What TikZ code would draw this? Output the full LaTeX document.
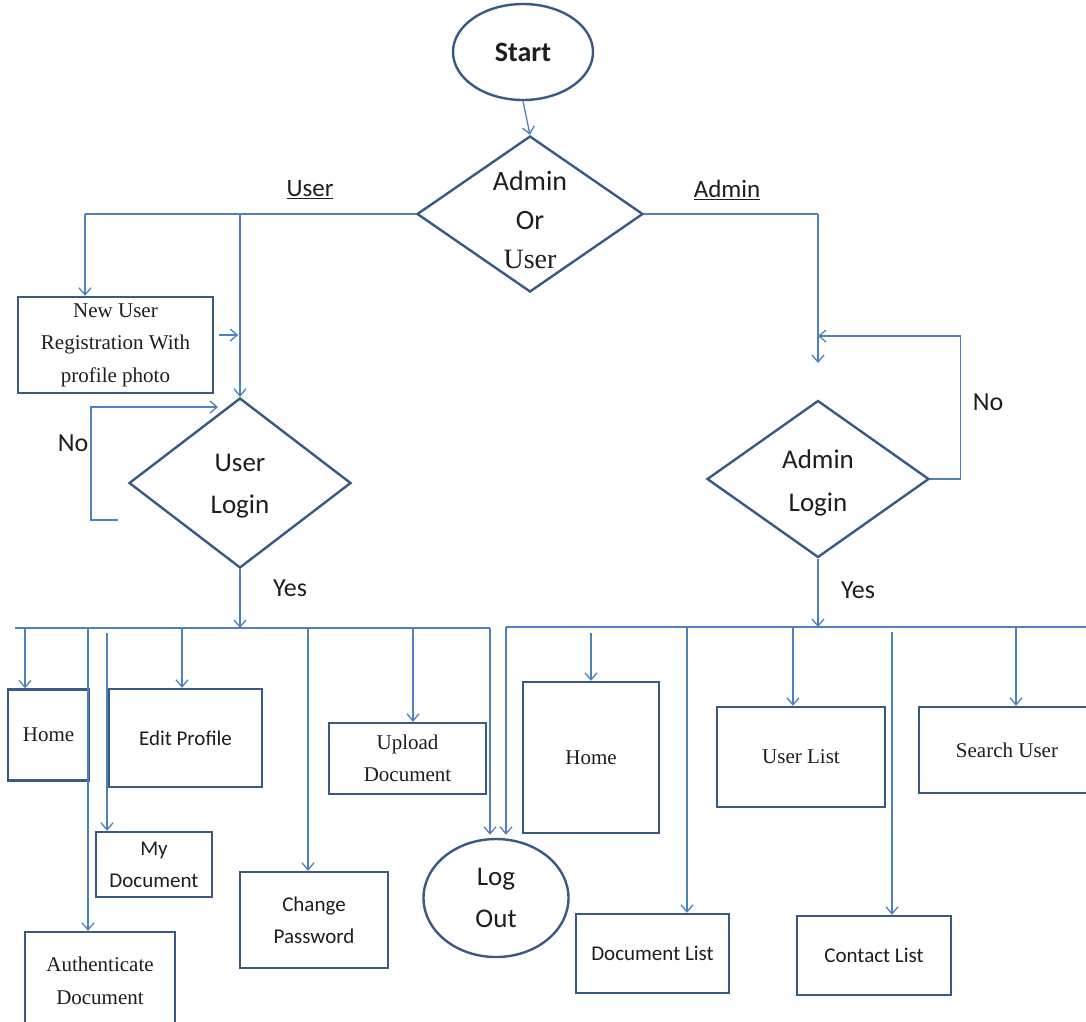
\documentclass[tikz,border=0pt]{standalone}
\usepackage{fontspec}
\setmainfont{Carlito}
\newfontfamily\serifface{Liberation Serif}
\usetikzlibrary{shapes.geometric,arrows.meta,calc}

\definecolor{linkblue}{HTML}{4F81BD}
\definecolor{edgenavy}{HTML}{3A5A85}
\definecolor{inkgray}{HTML}{1E1E1E}

\newcommand\fsz[2]{\fontsize{#1}{#2}\selectfont}

\tikzset{
  box/.style={draw=edgenavy, line width=2.4pt, fill=white, inner sep=0pt,
    align=center, text=inkgray},
  choice/.style={diamond, draw=edgenavy, line width=2.4pt, fill=white, inner sep=0pt},
  term/.style={ellipse, draw=edgenavy, line width=2.4pt, fill=white, inner sep=0pt,
    align=center, text=inkgray},
  flow/.style={draw=linkblue, line width=1.3pt},
  arr/.style={flow, -{Straight Barb[length=7pt,width=12pt,line width=1.3pt]}},
  lbl/.style={text=inkgray, inner sep=0pt, align=center},
  sans/.style={font=\fsz{21}{32}},
  serif/.style={font=\serifface\fsz{21}{32.5}},
}

\begin{document}
\begin{tikzpicture}[x=1pt, y=-1pt]
  \fill[white] (0,0) rectangle (1086,1021);
  \useasboundingbox (0,0) rectangle (1086,1021);

  % ---------- start and first decision ----------
  \node[term, minimum width=140pt, minimum height=96pt, font=\bfseries\fsz{28}{30}]
    (start) at (523,52) {Start};
  \node[choice, minimum width=226pt, minimum height=156pt] (aou) at (530,214) {};
  \node[lbl, font=\fsz{28}{39}] (aoutxt) at (530,220) {Admin\\Or\\{\serifface User}};
  \draw[arr] (start.south) -- (aou.north);

  \node[lbl, font=\fsz{25}{27}] (userlbl) at (310,190) {\underline{User}};
  \node[lbl, font=\fsz{25}{27}] (adminlbl) at (727,190) {\underline{Admin}};

  % ---------- user side ----------
  \node[box, serif, minimum width=195pt, minimum height=96pt] (newuser) at (115.5,345)
    {New User\\Registration With\\profile photo};
  \node[choice, minimum width=222pt, minimum height=170pt] (ulogin) at (240,483) {};
  \node[lbl, font=\fsz{27}{42}] (ulogintxt) at (240,486) {User\\Login};

  \coordinate (uturn) at (85,214);
  \coordinate (usplit) at (240,214);
  \draw[flow] (aou.west) -- (uturn);
  \draw[arr] (uturn) -- (uturn |- newuser.north);
  \draw[arr] (usplit) -- (ulogin.north);
  \draw[arr] ([shift={(5,-10)}]newuser.east) -- ++(19,0);

  \coordinate (unostart) at (118,520);
  \coordinate (unoend) at (218,407);
  \draw[arr] (unostart) -- ++(-27,0) |- (unoend);
  \node[lbl, font=\fsz{26}{28}] (unolbl) at (73,443) {No};
  \node[lbl, font=\fsz{26}{28}] (uyeslbl) at (290,588) {Yes};

  % user menu bus
  \coordinate (lbusL) at (15,628);
  \coordinate (lbusR) at (490,628);
  \coordinate (ujoin) at (240,628);
  \draw[flow] (lbusL) -- (lbusR);
  \draw[arr] (ulogin.south) -- (ujoin);

  \node[box, serif, minimum width=81pt, minimum height=91pt] (home1) at (48.5,735) {Home};
  \node[box, sans, minimum width=153pt, minimum height=98pt] (editp) at (185.5,738) {Edit Profile};
  \node[box, serif, minimum width=157pt, minimum height=71pt] (upload) at (407.5,758.5) {Upload\\Document};
  \node[box, sans, minimum width=116pt, minimum height=65pt] (mydoc) at (154,864.5) {My\\Document};
  \node[box, sans, minimum width=148pt, minimum height=96pt] (chpw) at (314,920) {Change\\Password};
  \node[box, serif, minimum width=150pt, minimum height=98pt] (auth) at (100,981) {Authenticate\\Document};
  \node[term, minimum width=145pt, minimum height=118pt, font=\fsz{27}{42}] (logout) at (496,898) {Log\\Out};

  \coordinate (b1) at (25,628);
  \coordinate (b2) at (88,628);
  \coordinate (b3) at (107,633);
  \coordinate (b4) at (182,628);
  \coordinate (b5) at (308,628);
  \coordinate (b6) at (413,628);
  \draw[arr] (b1) -- (b1 |- home1.north);
  \draw[arr] (b2) -- (b2 |- auth.north);
  \draw[arr] (b3) -- (b3 |- mydoc.north);
  \draw[arr] (b4) -- (b4 |- editp.north);
  \draw[arr] (b5) -- (b5 |- chpw.north);
  \draw[arr] (b6) -- (b6 |- upload.north);
  \draw[arr] (lbusR) -- ([yshift=3pt]lbusR |- logout.north);

  % ---------- admin side ----------
  \node[choice, minimum width=222pt, minimum height=157pt] (alogin) at (818,479) {};
  \node[lbl, font=\fsz{27}{43}] (alogintxt) at (818,483) {Admin\\Login};

  \coordinate (aturn) at (818,214);
  \coordinate (aentry) at (818,363);
  \coordinate (aloopend) at (818,336);
  \draw[flow] (aou.east) -- (aturn);
  \draw[arr] (aturn) -- (aentry);
  \draw[arr] (alogin.east) -- ++(30,0) |- (aloopend);
  \node[lbl, font=\fsz{26}{28}] (anolbl) at (988,402) {No};
  \node[lbl, font=\fsz{26}{28}] (ayeslbl) at (858,590) {Yes};

  % admin menu bus
  \coordinate (rbusL) at (506,627);
  \coordinate (rbusR) at (1092,627);
  \draw[flow] (rbusR) -- (rbusL);
  \draw[arr] (alogin.south) -- (alogin.south |- rbusL);
  \draw[arr] (rbusL) -- ([yshift=3pt]rbusL |- logout.north);

  \node[box, serif, minimum width=136pt, minimum height=151pt] (home2) at (591,757.5) {Home};
  \node[box, sans, minimum width=153pt, minimum height=79pt] (doclist) at (652.5,953.5) {Document List};
  \node[box, serif, minimum width=168pt, minimum height=100pt] (userlist) at (801,757) {User List};
  \node[box, sans, minimum width=154pt, minimum height=79pt] (contact) at (874,955.5) {Contact List};
  \node[box, serif, minimum width=176pt, minimum height=86pt] (search) at (1007,750) {Search User};

  \coordinate (c1) at (591,633);
  \coordinate (c2) at (687,627);
  \coordinate (c3) at (793,627);
  \coordinate (c4) at (892,632);
  \coordinate (c5) at (1016,627);
  \draw[arr] (c1) -- (c1 |- home2.north);
  \draw[arr] (c2) -- (c2 |- doclist.north);
  \draw[arr] (c3) -- (c3 |- userlist.north);
  \draw[arr] (c4) -- (c4 |- contact.north);
  \draw[arr] (c5) -- (c5 |- search.north);
\end{tikzpicture}
\end{document}
